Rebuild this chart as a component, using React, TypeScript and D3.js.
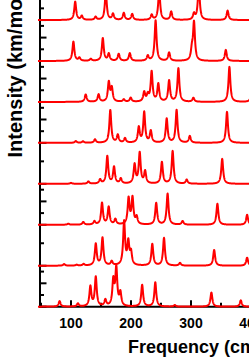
import React from 'react';
import * as d3 from 'd3';

// Peak lists, traces listed from top to bottom
const t1Freq = [107, 118, 141, 158, 170, 188, 202, 234.5, 247, 267, 305, 313, 361];
const t1Int = [156, 34, 26, 240, 51, 60, 51, 43, 256, 71, 51, 300, 80];
const t2Freq = [104, 114, 133, 153, 163, 179.5, 198, 228, 241, 263.5, 301.5, 305, 358];
const t2Int = [165, 26, 17, 194, 60, 60, 66, 43, 346, 71, 85, 325, 94];
const t3Freq = [124.5, 146, 163, 168, 188, 199.5, 222, 228, 234.4, 245.5, 263.5, 279, 304, 364, 401];
const t3Int = [63, 63, 165, 115, 20, 34, 80, 55, 255, 150, 180, 285, 34, 299, 85];
const t4Freq = [108, 120, 140, 165.5, 178, 190, 213, 222, 233, 259.5, 276, 298, 360];
const t4Int = [15, 13, 29, 280, 66, 38, 130, 260, 100, 205, 280, 57, 265];
const t5Freq = [100, 129, 148.5, 160.5, 171.7, 183, 206, 214.5, 223.5, 251.5, 269.4, 292.8, 352];
const t5Int = [4, 10, 18, 122, 74, 22, 84, 136, 54, 96, 145, 18, 111];
const t6Freq = [95.5, 120.5, 139, 151.7, 162.8, 174, 196, 202.5, 209.4, 242, 261, 286, 344, 393.5];
const t6Int = [9, 23, 28, 185, 150, 45, 222, 225, 62, 185, 265, 31, 180, 85];
const t7Freq = [88.5, 109.5, 121, 141.3, 152.5, 167.8, 188.5, 195.5, 200, 235.5, 255, 281.7, 338.6, 393.5];
const t7Int = [7, 4, 7, 96, 123, 18, 194, 100, 55, 96, 123, 12, 70, 36];
const t8Freq = [81, 111.5, 132.3, 141.3, 157.3, 170.5, 175.5, 182.3, 218.6, 240.5, 273, 334, 383];
const t8Int = [47, 26, 170, 250, 54, 215, 320, 112, 185, 207, 13, 121, 54];

const traceFreqs = [t1Freq, t2Freq, t3Freq, t4Freq, t5Freq, t6Freq, t7Freq, t8Freq];
const traceInts = [t1Int, t2Int, t3Int, t4Int, t5Int, t6Int, t7Int, t8Int];
// y-range of each panel (top to bottom) and its tick step
const panelMax = [350, 350, 350, 350, 182, 350, 182, 350];
const panelStep = [100, 100, 100, 100, 100, 100, 100, 100];

const xTicks = [100, 200, 300, 400];
const xMinorTicks = [50, 150, 250, 350];
const xDomain = [50, 400];
const xLabel = 'Frequency (cm\u207B\u00B9)';
const yLabel = 'Intensity (km/mol)';

const HWHM = 1.9;

export default function App() {
  const W = 249;
  const H = 360;
  const axisX = 40;
  const bottomY = 306.7;
  const panelH = 40.95;
  const nPanels = traceFreqs.length;

  const x = d3.scaleLinear().domain(xDomain).range([41, 251]);
  const outer = d3.scaleLinear().domain([0, nPanels]).range([bottomY, bottomY - nPanels * panelH]);

  const samples = d3.range(45, 420, 0.2);
  const font = 'Arial, "Liberation Sans", sans-serif';

  const traces = traceFreqs.map((freqs, i) => {
    const p = nPanels - 1 - i; // panel index from bottom
    const y = d3.scaleLinear().domain([0, panelMax[i]]).range([outer(p), outer(p + 1)]);
    const ints = traceInts[i];
    const pts: [number, number][] = samples.map((f) => {
      let s = 0;
      for (let k = 0; k < freqs.length; k++) {
        const d = (f - freqs[k]) / HWHM;
        s += ints[k] / (1 + d * d);
      }
      return [f, s];
    });
    const line = d3.line<[number, number]>().x((d) => x(d[0])).y((d) => y(d[1]));
    const ticks = d3.range(0, panelMax[i] + 1e-6, panelStep[i]).map((v) => ({
      y: y(v),
      major: Math.round(v / panelStep[i]) % 2 === 0,
    }));
    return { path: line(pts) || '', ticks, key: i };
  });

  return (
    <svg
      width={W}
      height={H}
      style={{ position: 'absolute', left: 0, top: 0, display: 'block', background: '#fff' }}
    >
      {/* y-axis */}
      <line x1={axisX} x2={axisX} y1={-40} y2={bottomY + 1} stroke="#000" strokeWidth={2} />
      {traces.map((t) =>
        t.ticks.map((tk, j) => (
          <line
            key={`yt${t.key}-${j}`}
            x1={axisX}
            x2={axisX + (tk.major ? 6.5 : 4)}
            y1={tk.y}
            y2={tk.y}
            stroke="#000"
            strokeWidth={2}
          />
        ))
      )}
      {/* x-axis */}
      <line x1={axisX - 1} x2={W + 20} y1={bottomY} y2={bottomY} stroke="#000" strokeWidth={2} />
      {xTicks.map((v) => (
        <line key={`xt${v}`} x1={x(v)} x2={x(v)} y1={bottomY} y2={bottomY - 6.5} stroke="#000" strokeWidth={2} />
      ))}
      {xMinorTicks.map((v) => (
        <line key={`xm${v}`} x1={x(v)} x2={x(v)} y1={bottomY} y2={bottomY - 4} stroke="#000" strokeWidth={2} />
      ))}
      {xTicks.map((v) => (
        <text
          key={`xl${v}`}
          x={x(v)}
          y={327.5}
          textAnchor="middle"
          fontFamily={font}
          fontWeight="bold"
          fontSize={14}
          fill="#000"
        >
          {v}
        </text>
      ))}
      {/* traces */}
      {traces.map((t) => (
        <path
          key={`tr${t.key}`}
          d={t.path}
          fill="none"
          stroke="#ff0000"
          strokeWidth={2}
          strokeLinejoin="round"
        />
      ))}
      {/* labels */}
      <text
        x={128}
        y={353}
        fontFamily={font}
        fontWeight="bold"
        fontSize={18}
        fill="#000"
      >
        {xLabel}
      </text>
      <text
        transform="translate(22,157.5) rotate(-90)"
        fontFamily={font}
        fontWeight="bold"
        fontSize={20}
        fill="#000"
      >
        {yLabel}
      </text>
    </svg>
  );
}
